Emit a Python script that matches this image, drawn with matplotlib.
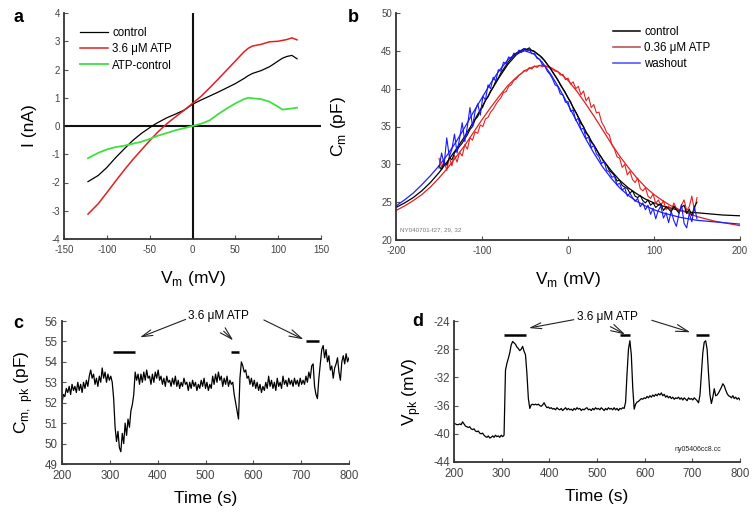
import numpy as np
import matplotlib
matplotlib.use("Agg")
import matplotlib.pyplot as plt

plt.rcParams['font.family'] = ['Liberation Sans', 'DejaVu Sans']
plt.rcParams['mathtext.fontset'] = 'custom'
plt.rcParams['mathtext.rm'] = 'Liberation Sans'
plt.rcParams['axes.unicode_minus'] = False

# ---------------- Panel a : I-V curves ----------------
a_v = [-122, -110, -100, -90, -80, -70, -60, -50, -45, -40, -30, -20, -10, 0, 10, 20, 30, 40,
       50, 60, 65, 70, 80, 90, 100, 105, 110, 116, 122]
a_control = [-1.97, -1.75, -1.47, -1.13, -0.82, -0.52, -0.27, -0.06, 0.04, 0.13, 0.29, 0.42, 0.56,
             0.77, 0.92, 1.06, 1.2, 1.35, 1.5, 1.68, 1.78, 1.86, 1.96, 2.1, 2.3, 2.4, 2.46, 2.5, 2.38]
a_atp = [-3.12, -2.75, -2.36, -1.96, -1.57, -1.2, -0.86, -0.52, -0.36, -0.2, 0.08, 0.32, 0.55,
         0.8, 1.05, 1.35, 1.66, 1.98, 2.3, 2.62, 2.75, 2.83, 2.89, 2.98, 3.0, 3.03, 3.06, 3.12, 3.05]
a_diff = [-1.14, -0.95, -0.83, -0.75, -0.7, -0.63, -0.56, -0.46, -0.4, -0.34, -0.25, -0.15, -0.08,
          0.0, 0.08, 0.2, 0.42, 0.62, 0.8, 0.95, 1.0, 0.98, 0.95, 0.86, 0.68, 0.58, 0.6, 0.62, 0.65]

# ---------------- Panel b : NLC ----------------
b_fit_v = list(range(-200, 201, 10))
b_fit_control = [24.3, 24.9, 25.6, 26.5, 27.6, 28.9, 30.4, 32.0, 33.7, 35.6, 37.6, 39.6, 41.5, 43.2,
                 44.5, 45.2, 45.0, 44.1, 42.6, 40.8, 38.8, 36.7, 34.5, 32.5, 30.7, 29.2, 27.9, 26.9,
                 26.1, 25.4, 24.9, 24.5, 24.2, 23.9, 23.7, 23.6, 23.5, 23.4, 23.3, 23.25, 23.2]
b_fit_atp = [23.9, 24.5, 25.2, 26.0, 27.0, 28.2, 29.5, 31.0, 32.5, 34.2, 35.9, 37.5, 39.0, 40.4,
             41.5, 42.4, 42.9, 43.1, 42.8, 42.1, 41.1, 39.7, 38.1, 36.4, 34.6, 32.8, 31.1, 29.6,
             28.2, 27.0, 26.0, 25.2, 24.5, 24.0, 23.5, 23.1, 22.8, 22.5, 22.3, 22.1, 21.9]
b_fit_wash = [24.5, 25.3, 26.2, 27.3, 28.5, 29.8, 31.3, 33.0, 34.9, 36.9, 38.8, 40.7, 42.4, 43.8,
              44.7, 45.0, 44.6, 43.5, 41.9, 40.0, 37.9, 35.7, 33.5, 31.5, 29.7, 28.2, 26.9, 25.9,
              25.1, 24.5, 24.0, 23.6, 23.3, 23.0, 22.8, 22.6, 22.5, 22.4, 22.3, 22.2, 22.1]

b_control = [29.8, 29.3, 30.2, 29.9, 30.9, 30.6, 31.5, 31.9, 32.4, 32.8,
             33.4, 33.9, 34.6, 35.0, 35.9, 36.3, 37.1, 37.6, 38.5, 38.9,
             39.7, 40.2, 41.0, 41.4, 42.1, 42.6, 43.1, 43.6, 44.0, 44.4,
             44.7, 44.9, 45.1, 45.3, 45.2, 45.4, 45.0, 44.9, 44.6, 44.4,
             44.0, 43.7, 43.2, 42.8, 42.2, 41.7, 41.2, 40.5, 40.0, 39.5,
             38.8, 38.3, 37.4, 36.9, 36.2, 35.4, 35.0, 34.1, 33.8, 32.9,
             32.6, 32.0, 31.3, 30.9, 30.2, 29.9, 29.2, 28.9, 28.5, 27.8,
             27.9, 27.2, 27.0, 26.8, 26.2, 26.5, 25.8, 25.6, 25.9, 25.2,
             24.9, 25.3, 24.6, 24.9, 24.3, 24.6, 24.8, 23.9, 24.4, 24.1,
             23.7, 24.5, 24.0, 23.6, 24.3, 24.6, 23.5, 24.1, 23.2, 24.4, 25.0]
b_wash = [29.5, 31.5, 30.0, 33.5, 31.0, 32.0, 34.0, 31.5, 33.5, 35.5,
          33.0, 35.0, 37.5, 35.0, 37.0, 38.0, 36.5, 39.0, 38.5, 40.5,
          40.0, 41.5, 41.0, 42.5, 42.3, 43.5, 43.3, 44.2, 43.9, 44.7,
          44.5, 45.1, 44.8, 45.3, 44.9, 45.2, 44.6, 44.7, 44.0, 43.9,
          43.2, 43.0, 42.3, 41.9, 41.3, 40.5, 40.3, 39.3, 39.2, 38.2,
          38.3, 37.0, 37.2, 35.8, 36.1, 34.6, 34.8, 33.4, 33.6, 32.2,
          32.5, 31.4, 31.0, 30.1, 30.4, 29.2, 29.0, 28.3, 28.4, 27.3,
          27.5, 26.6, 26.9, 25.8, 26.2, 25.6, 25.1, 25.5, 24.4, 24.9,
          24.0, 24.6, 23.4, 24.2, 22.8, 23.9, 24.5, 22.9, 23.6, 22.3,
          23.8, 22.6, 21.8, 23.4, 24.7, 22.2, 21.6, 23.5, 22.4, 24.3, 22.8]
b_atp = [30.8, 29.6, 30.5, 29.2, 30.9, 29.8, 31.2, 30.3, 31.6, 31.1,
         32.6, 32.0, 33.5, 33.2, 34.3, 34.1, 35.2, 35.0, 36.0, 36.2,
         36.9, 37.3, 37.9, 38.4, 38.8, 39.5, 39.6, 40.3, 40.5, 41.1,
         41.3, 41.8, 42.0, 42.4, 42.3, 42.8, 42.6, 43.0, 42.8, 43.1,
         42.9, 43.0, 42.9, 42.7, 42.6, 42.3, 42.3, 41.8, 41.9, 41.2,
         41.4, 40.6, 40.9, 40.0, 40.3, 39.2, 39.7, 38.4, 38.9, 37.5,
         37.9, 36.8, 36.9, 35.6, 35.0, 34.2, 33.9, 32.6, 32.0, 31.0,
         30.8, 29.6, 30.0, 28.6, 29.1, 28.0, 27.6, 28.2, 26.8, 26.5,
         26.9, 25.8, 25.5, 26.1, 24.8, 25.3, 24.6, 25.2, 24.0, 24.5,
         23.8, 24.9, 24.2, 23.5, 24.6, 25.3, 23.9, 24.4, 25.8, 23.9, 25.6]

# ---------------- Panel c : Cm,pk vs time ----------------
c_vals = [52.0, 52.4, 52.3, 52.7, 52.5, 52.8, 52.4, 52.9, 52.6, 52.8,
          52.5, 53.0, 52.6, 52.9, 52.5, 53.0, 52.7, 53.1, 52.8, 53.3,
          53.6, 53.2, 53.4, 52.9, 53.2, 52.8, 53.3, 53.0, 53.7, 53.2,
          53.5, 53.0, 53.4, 53.1, 53.3, 53.0, 52.2, 50.8, 50.1, 50.6,
          49.8, 49.6, 50.5, 50.0, 51.0, 50.4, 51.2, 50.8, 51.6, 51.9,
          52.4, 53.5, 53.1, 53.4, 52.9, 53.4, 53.0, 53.5, 53.1, 53.6,
          53.2, 53.3, 52.9, 53.4, 53.0, 53.5, 53.2, 53.6, 53.1, 53.3,
          52.9, 53.2, 52.8, 53.3, 53.0, 53.1, 52.8, 53.2, 52.9, 53.3,
          52.8, 53.1, 52.7, 53.0, 52.8, 53.2, 52.9, 53.0, 52.6, 53.0,
          52.7, 53.1, 52.8, 53.0, 52.6, 52.9, 52.7, 53.1, 52.8, 53.2,
          52.7, 53.0, 52.6, 52.9, 52.7, 53.3, 52.9, 53.4, 53.0, 53.5,
          53.1, 53.3, 52.8, 53.2, 52.9, 53.3, 52.8, 53.1, 52.9, 53.0,
          52.4, 52.0, 51.6, 51.2, 53.2, 54.0, 53.8, 53.5, 53.6, 53.2,
          53.3, 52.9, 53.2, 52.8, 53.1, 52.7, 53.0, 52.6, 52.9, 52.5,
          52.8, 52.6, 53.0, 52.7, 53.3, 52.8, 53.1, 52.7, 53.0, 52.6,
          53.2, 52.8, 53.0, 52.7, 53.3, 52.9, 53.1, 52.8, 53.2, 52.9,
          53.1, 52.8, 53.2, 52.9, 53.1, 52.8, 53.2, 52.9, 53.1, 52.9,
          53.3, 53.0, 53.5, 53.2, 53.8, 53.9, 52.8, 52.4, 52.2, 53.2,
          53.9, 54.6, 54.8, 54.2, 54.6, 54.0, 54.3, 53.6, 53.8, 53.2,
          53.7, 53.9, 54.2, 53.5, 53.1, 54.0, 54.3, 53.9, 54.4, 54.0, 54.2]

# ---------------- Panel d : Vpk vs time ----------------
d_vals = [-38.5, -38.6, -38.7, -38.7, -38.6, -38.7, -38.3, -38.6, -38.9, -39.0,
          -39.1, -39.0, -39.3, -39.4, -39.3, -39.6, -39.7, -39.6, -39.9, -40.0,
          -39.9, -40.2, -40.4, -40.5, -40.3, -40.6, -40.5, -40.3, -40.5, -40.2,
          -40.4, -40.3, -40.5, -40.2, -40.4, -40.2, -31.0, -30.0, -29.3, -28.5,
          -27.4, -26.9, -27.1, -27.3, -27.7, -27.9, -28.2, -28.0, -27.6, -28.3,
          -28.8, -31.5, -35.0, -36.4, -35.9, -35.8, -35.9, -35.8, -35.9, -35.8,
          -36.0, -36.1, -35.9, -35.6, -36.0, -36.3, -36.2, -36.4, -36.3, -36.5,
          -36.4, -36.6, -36.3, -36.5, -36.6, -36.4, -36.7, -36.5, -36.3, -36.6,
          -36.4, -36.6, -36.5, -36.7, -36.4, -36.6, -36.3, -36.5, -36.4, -36.7,
          -36.5, -36.6, -36.4, -36.3, -36.6, -36.5, -36.7, -36.4, -36.6, -36.3,
          -36.5, -36.4, -36.6, -36.3, -36.5, -36.7, -36.4, -36.6, -36.3, -36.5,
          -36.4, -36.6, -36.3, -36.6, -36.4, -36.7, -36.4, -36.5, -36.3, -36.4,
          -35.5, -31.5, -28.0, -26.8, -28.8, -33.5, -36.5, -35.8, -35.5, -35.4,
          -35.2, -35.0, -35.1, -34.9, -35.0, -34.7, -34.9, -34.6, -34.8, -34.5,
          -34.7, -34.4, -34.6, -34.3, -34.5, -34.2, -34.6, -34.4, -34.8, -34.6,
          -34.9, -34.7, -35.0, -34.8, -35.1, -34.9, -35.0, -34.8, -35.1, -34.9,
          -35.2, -34.9, -35.1, -35.3, -34.9, -35.1, -35.0, -35.2, -34.9, -35.1,
          -35.3, -35.6, -34.5, -31.5, -28.5, -27.0, -26.8, -28.0, -31.5, -34.5,
          -35.7, -34.8, -33.6, -34.6, -34.5, -34.2, -33.8, -33.4, -32.9, -33.2,
          -33.8, -34.3, -34.6, -34.7, -34.9, -34.6, -35.0, -34.8, -35.1, -34.9, -35.2]

# ATP application bars (start, end) in s
c_bars = [(307, 352), (553, 571), (711, 738)]
c_bar_levels = [54.5, 54.5, 55.0]
d_bars = [(304, 350), (549, 570), (708, 736)]
d_bar_levels = [-26.0, -26.0, -26.0]

W, H = 754, 512
fig = plt.figure(figsize=(W / 100, H / 100), dpi=100)


def ax_rect(l, t, r, b):
    return [l / W, 1 - b / H, (r - l) / W, (b - t) / H]


tick_color = '#444444'
label_fs = 12.5


def style(ax, fs):
    for s in ['top', 'right']:
        ax.spines[s].set_visible(False)
    for s in ['left', 'bottom']:
        ax.spines[s].set_linewidth(1.3)
        ax.spines[s].set_color('#333333')
    ax.tick_params(direction='in', length=3, width=0.8, labelsize=fs,
                   labelcolor=tick_color, color='#555555', pad=3)
    ax.tick_params(axis='x', pad=4.5)


# ---- a ----
axa = fig.add_axes(ax_rect(64, 13, 321, 239))
style(axa, 7.0)
axa.axhline(0, color='#111111', lw=1.5)
axa.axvline(0, color='#111111', lw=1.5)
axa.plot(a_v, a_control, color='black', lw=0.9, label='control')
axa.plot(a_v, a_atp, color='#e02020', lw=1.1, label='3.6 \u03bcM ATP')
axa.plot(a_v, a_diff, color='#40e040', lw=1.3, label='ATP-control')
axa.set_xlim(-150, 150)
axa.set_ylim(-4, 4)
axa.set_xticks(range(-150, 151, 50))
axa.set_yticks(range(-4, 5, 1))
axa.set_xlabel(r'V$_\mathregular{m}$ (mV)', fontsize=label_fs, labelpad=10)
axa.set_ylabel('I (nA)', fontsize=label_fs, labelpad=10)
axa.legend(loc='upper left', bbox_to_anchor=(0.02, 0.985), frameon=False, fontsize=8.3,
           handlelength=2.5, handletextpad=0.35, labelspacing=0.38)
fig.text(13 / W, 1 - 17 / H, 'a', fontsize=13, fontweight='bold', va='center', ha='left')

# ---- b ----
axb = fig.add_axes(ax_rect(396, 13, 740, 240))
style(axb, 7.0)
bv = np.linspace(-150, 150, len(b_control))
axb.plot(b_fit_v, b_fit_control, color='black', lw=0.9)
axb.plot(b_fit_v, b_fit_atp, color='#e02020', lw=0.9)
axb.plot(b_fit_v, b_fit_wash, color='#2020ff', lw=0.9)
axb.plot(bv, b_atp, color='#e82020', lw=0.8)
axb.plot(bv, b_control, color='black', lw=0.8)
axb.plot(bv, b_wash, color='#1818ff', lw=0.8)
axb.set_xlim(-200, 200)
axb.set_ylim(20, 50)
axb.set_xticks(range(-200, 201, 100))
axb.set_yticks(range(20, 51, 5))
axb.set_xlabel(r'V$_\mathregular{m}$ (mV)', fontsize=label_fs, labelpad=10)
axb.set_ylabel(r'C$_\mathregular{m}$ (pF)', fontsize=label_fs, labelpad=24)
hl = [plt.Line2D([], [], color='black', lw=1.1),
      plt.Line2D([], [], color='#b04848', lw=1.1),
      plt.Line2D([], [], color='#4848ff', lw=1.1)]
axb.legend(hl, ['control', '0.36 \u03bcM ATP', 'washout'], loc='upper left',
           bbox_to_anchor=(0.6, 0.99), frameon=False, fontsize=8.3,
           handlelength=2.4, handletextpad=0.35, labelspacing=0.38)
axb.text(-195, 21.2, 'NY040701-f27, 29, 32', fontsize=4.5, color='#777777')
fig.text(348 / W, 1 - 17 / H, 'b', fontsize=13, fontweight='bold', va='center', ha='left')

# ---- c ----
axc = fig.add_axes(ax_rect(62, 321, 349, 464))
style(axc, 8.3)
ct = np.linspace(200, 800, len(c_vals))
axc.plot(ct, c_vals, color='black', lw=0.9)
for (s, e), lev in zip(c_bars, c_bar_levels):
    axc.plot([s, e], [lev, lev], color='black', lw=1.8, solid_capstyle='butt')
axc.set_xlim(200, 800)
axc.set_ylim(49, 56)
axc.set_xticks(range(200, 801, 100))
axc.set_yticks(range(49, 57, 1))
axc.set_xlabel('Time (s)', fontsize=label_fs, labelpad=6)
axc.set_ylabel(r'C$_\mathregular{m,\ pk}$ (pF)', fontsize=label_fs, labelpad=7)
ann_kw = dict(fontsize=8.5, ha='center', va='center', annotation_clip=False)
arr = dict(arrowstyle='->, head_length=0.9, head_width=0.25', color='#222222', lw=0.8,
           shrinkA=0, shrinkB=0)
axc.annotate('3.6 \u03bcM ATP', xy=(363, 55.2), xytext=(528, 56.25),
             arrowprops=dict(arr, relpos=(0.0, 0.3)), **ann_kw)
axc.annotate('', xy=(558, 55.05), xytext=(538, 55.5), arrowprops=arr, annotation_clip=False)
axc.annotate('', xy=(705, 55.1), xytext=(622, 56.05), arrowprops=arr, annotation_clip=False)
fig.text(13 / W, 1 - 324 / H, 'c', fontsize=13, fontweight='bold', va='center', ha='left')

# ---- d ----
axd = fig.add_axes(ax_rect(454, 321, 740, 462))
style(axd, 8.3)
dt = np.linspace(200, 800, len(d_vals))
axd.plot(dt, d_vals, color='black', lw=0.9)
for (s, e), lev in zip(d_bars, d_bar_levels):
    axd.plot([s, e], [lev, lev], color='black', lw=1.8, solid_capstyle='butt')
axd.set_xlim(200, 800)
axd.set_ylim(-44, -24)
axd.set_xticks(range(200, 801, 100))
axd.set_yticks(range(-44, -23, 4))
axd.set_xlabel('Time (s)', fontsize=label_fs, labelpad=6)
axd.set_ylabel(r'V$_\mathregular{pk}$ (mV)', fontsize=label_fs, labelpad=7)
axd.annotate('3.6 \u03bcM ATP', xy=(357, -25.0), xytext=(521, -23.4),
             arrowprops=dict(arr, relpos=(0.0, 0.3)), **ann_kw)
axd.annotate('', xy=(559, -25.9), xytext=(528, -24.8), arrowprops=arr, annotation_clip=False)
axd.annotate('', xy=(696, -25.6), xytext=(615, -23.9), arrowprops=arr, annotation_clip=False)
axd.text(711, -42.2, 'ny05406cc8.cc', fontsize=5, ha='center', va='center', color='#222222')
fig.text(412 / W, 1 - 322 / H, 'd', fontsize=13, fontweight='bold', va='center', ha='left')

fig.savefig('out.png', dpi=100)
